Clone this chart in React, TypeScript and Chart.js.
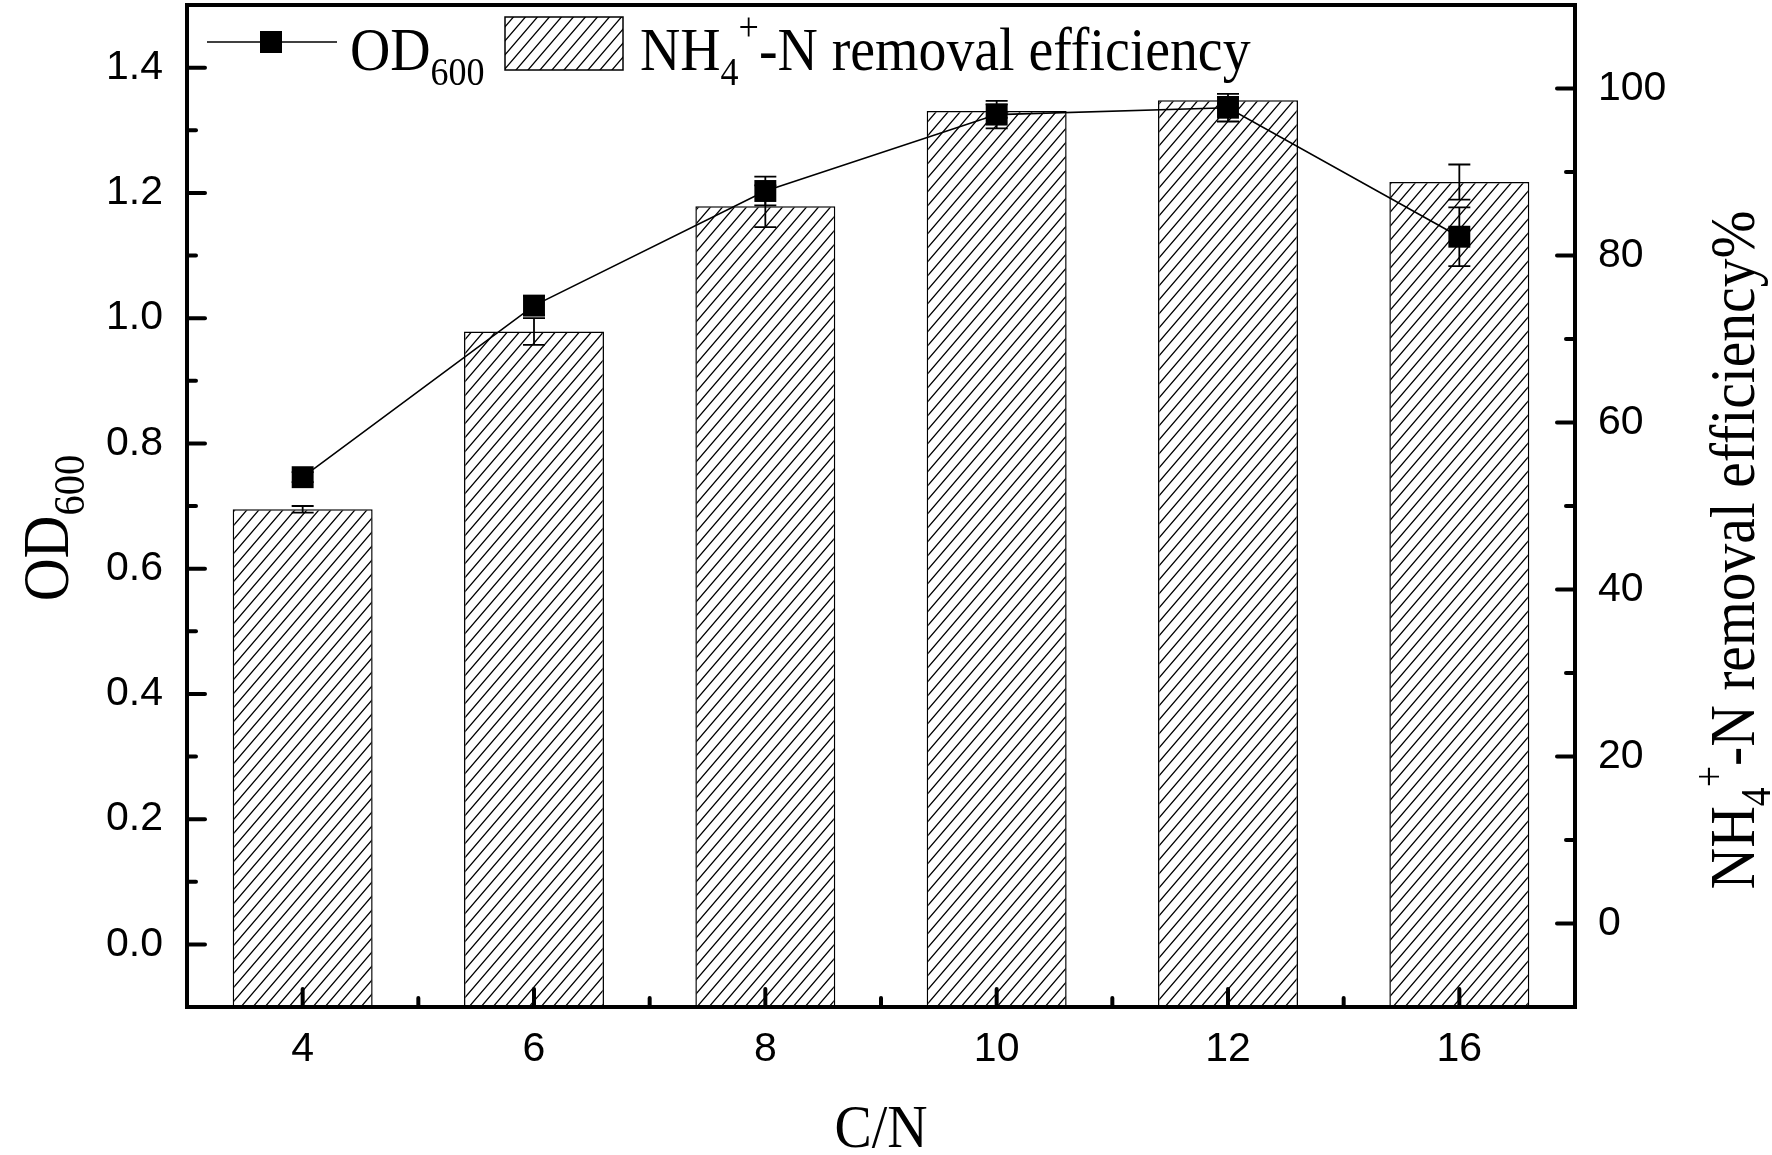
import { useEffect, useRef } from "react"
import { Chart, registerables } from "chart.js"

Chart.register(...registerables)

// C/N ratios on the x axis
const categories = ["4", "6", "8", "10", "12", "16"]
// OD600 (left axis) with error
const od600 = [0.746, 1.02, 1.203, 1.325, 1.336, 1.13]
const od600Err = [0.008, 0.015, 0.023, 0.022, 0.022, 0.047]
// NH4+-N removal efficiency % (right axis) with error
const removal = [49.6, 70.9, 85.9, 97.3, 98.6, 88.8]
const removalErr = [0.4, 1.6, 2.5, 0.8, 0.4, 2.1]

const odTicks = [0, 0.2, 0.4, 0.6, 0.8, 1.0, 1.2, 1.4]
const odMinorTicks = [0.1, 0.3, 0.5, 0.7, 0.9, 1.1, 1.3]
const removalTicks = [0, 20, 40, 60, 80, 100]
const removalMinorTicks = [10, 30, 50, 70, 90]

const SANS = '"Liberation Sans", Arial, sans-serif'
const SERIF = '"Liberation Serif", "Times New Roman", serif'
const SQUEEZE = 0.9

type Seg = { text: string; size: number; dy: number }

const odLabel: Seg[] = [
  { text: "OD", size: 62, dy: 0 },
  { text: "600", size: 40, dy: 15 },
]
const odTitle: Seg[] = [
  { text: "OD", size: 66, dy: 0 },
  { text: "600", size: 45, dy: 16 },
]
const nhLabel: Seg[] = [
  { text: "NH", size: 62, dy: 0 },
  { text: "4", size: 40, dy: 15 },
  { text: "+", size: 40, dy: -30 },
  { text: "-N removal efficiency", size: 62, dy: 0 },
]
const nhTitle: Seg[] = [
  { text: "NH", size: 64, dy: 0 },
  { text: "4", size: 42, dy: 16 },
  { text: "+", size: 42, dy: -31 },
  { text: "-N removal efficiency%", size: 64, dy: 0 },
]

function drawRich(ctx: CanvasRenderingContext2D, x: number, y: number, segs: Seg[], center: boolean, angle = 0) {
  ctx.save()
  ctx.translate(x, y)
  ctx.rotate(angle)
  ctx.scale(SQUEEZE, 1)
  ctx.fillStyle = "#000"
  ctx.textAlign = "left"
  ctx.textBaseline = "alphabetic"
  let total = 0
  for (const s of segs) {
    ctx.font = `${s.size}px ${SERIF}`
    total += ctx.measureText(s.text).width
  }
  let cx = center ? -total / 2 : 0
  for (const s of segs) {
    ctx.font = `${s.size}px ${SERIF}`
    ctx.fillText(s.text, cx, s.dy)
    cx += ctx.measureText(s.text).width
  }
  ctx.restore()
}

function makeHatch(): CanvasPattern | string {
  const w = 12
  const h = 14
  const c = document.createElement("canvas")
  c.width = w
  c.height = h
  const g = c.getContext("2d")
  if (!g) return "#fff"
  g.fillStyle = "#fff"
  g.fillRect(0, 0, w, h)
  g.strokeStyle = "#000"
  g.lineWidth = 1.3
  g.beginPath()
  g.moveTo(-w, h)
  g.lineTo(w, -h)
  g.moveTo(0, h)
  g.lineTo(w, 0)
  g.moveTo(0, 2 * h)
  g.lineTo(2 * w, 0)
  g.stroke()
  return g.createPattern(c, "repeat") || "#fff"
}

function errBar(ctx: CanvasRenderingContext2D, x: number, y1: number, y2: number) {
  const half = 11
  ctx.beginPath()
  ctx.moveTo(x, y1)
  ctx.lineTo(x, y2)
  ctx.moveTo(x - half, y1)
  ctx.lineTo(x + half, y1)
  ctx.moveTo(x - half, y2)
  ctx.lineTo(x + half, y2)
  ctx.stroke()
}

export default function App() {
  const canvasRef = useRef<HTMLCanvasElement>(null)
  const chartRef = useRef<Chart | null>(null)

  useEffect(() => {
    if (!canvasRef.current) return
    if (chartRef.current) chartRef.current.destroy()
    const ctx = canvasRef.current.getContext("2d")
    if (!ctx) return

    const hatch = makeHatch()

    const originAxes = {
      id: "originAxes",
      afterDatasetDraw(chart: any, args: any) {
        const c = chart.ctx as CanvasRenderingContext2D
        const x = chart.scales.x
        c.save()
        c.strokeStyle = "#000"
        c.lineWidth = 1.8
        if (args.index === 0) {
          const y1 = chart.scales.y1
          removal.forEach((v, i) => {
            errBar(c, x.getPixelForValue(i), y1.getPixelForValue(v + removalErr[i]), y1.getPixelForValue(v - removalErr[i]))
          })
        }
        if (args.index === 1) {
          const y = chart.scales.y
          od600.forEach((v, i) => {
            errBar(c, x.getPixelForValue(i), y.getPixelForValue(v + od600Err[i]), y.getPixelForValue(v - od600Err[i]))
          })
        }
        c.restore()
      },
      afterDraw(chart: any) {
        const c = chart.ctx as CanvasRenderingContext2D
        const a = chart.chartArea
        const { x, y, y1 } = chart.scales
        c.save()
        c.strokeStyle = "#000"
        c.lineWidth = 4
        c.strokeRect(a.left, a.top, a.right - a.left, a.bottom - a.top)

        c.lineCap = "round"
        const line = (x1: number, ya: number, x2: number, yb: number) => {
          c.beginPath()
          c.moveTo(x1, ya)
          c.lineTo(x2, yb)
          c.stroke()
        }
        odTicks.forEach((v) => {
          const p = y.getPixelForValue(v)
          line(a.left, p, a.left + 18, p)
        })
        odMinorTicks.forEach((v) => {
          const p = y.getPixelForValue(v)
          line(a.left, p, a.left + 9, p)
        })
        removalTicks.forEach((v) => {
          const p = y1.getPixelForValue(v)
          line(a.right, p, a.right - 18, p)
        })
        removalMinorTicks.forEach((v) => {
          const p = y1.getPixelForValue(v)
          line(a.right, p, a.right - 9, p)
        })
        categories.forEach((_, i) => {
          const p = x.getPixelForValue(i)
          line(p, a.bottom, p, a.bottom - 18)
          if (i < categories.length - 1) {
            const q = x.getPixelForValue(i + 0.5)
            line(q, a.bottom, q, a.bottom - 9)
          }
        })
        c.lineCap = "butt"

        // legend
        c.lineWidth = 1.6
        line(207, 42, 337, 42)
        c.fillStyle = "#000"
        c.fillRect(260, 31, 22, 22)
        drawRich(c, 350, 70, odLabel, false)
        c.fillStyle = hatch as any
        c.fillRect(505, 17, 118, 53)
        c.lineWidth = 1.5
        c.strokeRect(505, 17, 118, 53)
        drawRich(c, 640, 70, nhLabel, false)

        // axis titles
        drawRich(c, (a.left + a.right) / 2, 1147, [{ text: "C/N", size: 62, dy: 0 }], true)
        drawRich(c, 68, 528, odTitle, true, -Math.PI / 2)
        drawRich(c, 1754, 550, nhTitle, true, -Math.PI / 2)
        c.restore()
      },
    }

    const tickFont = { family: SANS, size: 41 }

    chartRef.current = new Chart(ctx, {
      type: "bar",
      data: {
        datasets: [
          {
            type: "bar",
            label: "NH4+-N removal efficiency",
            data: removal.map((v, i) => ({ x: i, y: v })),
            xAxisID: "x",
            yAxisID: "y1",
            base: -10,
            backgroundColor: hatch as any,
            borderColor: "#000",
            borderWidth: 1.5,
            borderSkipped: false,
            barPercentage: 0.605,
            categoryPercentage: 1,
            order: 2,
          } as any,
          {
            type: "line",
            label: "OD600",
            data: od600.map((v, i) => ({ x: i, y: v })),
            xAxisID: "x",
            yAxisID: "y",
            borderColor: "#000",
            borderWidth: 1.6,
            pointStyle: "rect",
            pointRadius: 15.5,
            pointBackgroundColor: "#000",
            pointBorderWidth: 0,
            tension: 0,
            fill: false,
            clip: false,
            order: 1,
          } as any,
        ],
      },
      options: {
        animation: false,
        responsive: true,
        maintainAspectRatio: false,
        layout: { autoPadding: false, padding: { top: 5, left: 0, right: 0, bottom: 0 } },
        plugins: {
          legend: { display: false },
          tooltip: { enabled: false },
        },
        scales: {
          x: {
            type: "linear",
            min: -0.5,
            max: 5.5,
            offset: false,
            grid: { display: false, drawTicks: false },
            border: { display: false },
            afterBuildTicks: (s: any) => {
              s.ticks = categories.map((_, i) => ({ value: i }))
            },
            afterFit: (s: any) => {
              s.height = 148
              s.paddingLeft = 0
              s.paddingRight = 0
            },
            ticks: {
              autoSkip: false,
              maxRotation: 0,
              padding: 18,
              color: "#000",
              font: tickFont,
              callback: (v: any) => categories[Number(v)] ?? "",
            },
          },
          y: {
            type: "linear",
            position: "left",
            min: -0.1,
            max: 1.5,
            grid: { display: false, drawTicks: false },
            border: { display: false },
            afterBuildTicks: (s: any) => {
              s.ticks = odTicks.map((v) => ({ value: v }))
            },
            afterFit: (s: any) => {
              s.width = 187
              s.paddingTop = 0
              s.paddingBottom = 0
            },
            ticks: {
              autoSkip: false,
              padding: 24,
              color: "#000",
              font: tickFont,
              callback: (v: any) => Number(v).toFixed(1),
            },
          },
          y1: {
            type: "linear",
            position: "right",
            min: -10,
            max: 110,
            grid: { display: false, drawTicks: false },
            border: { display: false },
            afterBuildTicks: (s: any) => {
              s.ticks = removalTicks.map((v) => ({ value: v }))
            },
            afterFit: (s: any) => {
              s.width = 197
              s.paddingTop = 0
              s.paddingBottom = 0
            },
            ticks: {
              autoSkip: false,
              padding: 23,
              color: "#000",
              font: tickFont,
              callback: (v: any) => String(v),
            },
          },
        },
      } as any,
      plugins: [originAxes],
    })

    return () => {
      if (chartRef.current) {
        chartRef.current.destroy()
        chartRef.current = null
      }
    }
  }, [])

  return (
    <div style={{ position: "fixed", left: 0, top: 0, width: 1772, height: 1155, background: "#fff" }}>
      <canvas ref={canvasRef} />
    </div>
  )
}
